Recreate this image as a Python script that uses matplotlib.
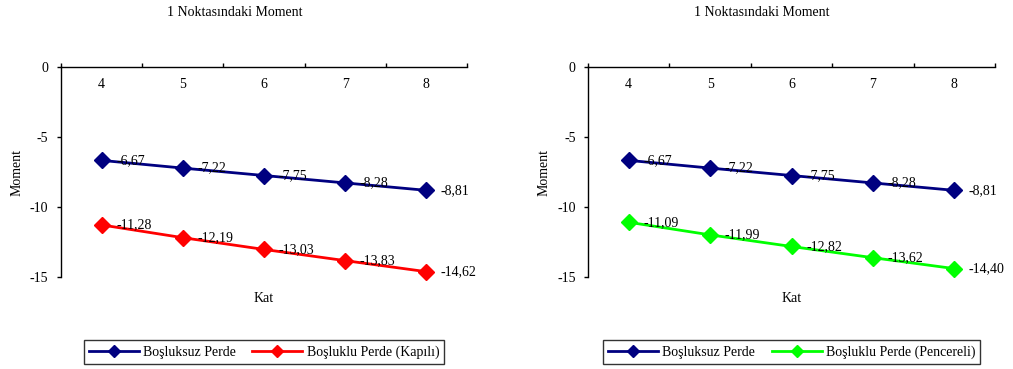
import matplotlib
matplotlib.use("Agg")
import matplotlib.pyplot as plt

plt.rcParams['font.family'] = ['Liberation Serif', 'DejaVu Serif']
plt.rcParams['font.size'] = 10
plt.rcParams['axes.unicode_minus'] = False

# kat numaraları ve moment değerleri
katlar = [4, 5, 6, 7, 8]
bosluksuz = [-6.67, -7.22, -7.75, -8.28, -8.81]
kapili = [-11.28, -12.19, -13.03, -13.83, -14.62]
pencereli = [-11.09, -11.99, -12.82, -13.62, -14.40]

y_ticks = [0, -5, -10, -15]
baslik = '1 Noktasındaki Moment'

fig = plt.figure(figsize=(10.13, 3.69), dpi=100)
ax1 = fig.add_axes([0.0602, 0.2493, 0.4008, 0.5691])
ax2 = fig.add_axes([0.5805, 0.2493, 0.4017, 0.5691])


def fmt(v):
    return f"{v:.2f}".replace('.', ',')


def ciz(ax, seriler, title_x):
    xs = list(range(len(katlar)))
    for vals, color, label in seriler:
        ax.plot(xs, vals, color=color, lw=2, marker='D', ms=8,
                markeredgecolor=color, label=label, clip_on=False)
        for x, v in zip(xs, vals):
            ax.annotate(fmt(v), (x, v), xytext=(10.5, 0), textcoords='offset points',
                        ha='left', va='center', fontsize=10)

    ax.set_xlim(-0.5, len(katlar) - 0.5)
    ax.set_ylim(-15, 0)
    for s in ['right', 'bottom']:
        ax.spines[s].set_visible(False)
    ax.spines['top'].set_linewidth(1)
    ax.spines['left'].set_linewidth(1)

    ax.xaxis.set_ticks_position('top')
    ax.set_xticks(xs)
    ax.set_xticklabels([str(k) for k in katlar])
    ax.set_xticks([x - 0.5 for x in range(len(katlar) + 1)], minor=True)
    ax.tick_params(axis='x', which='major', length=0, pad=-17)
    ax.tick_params(axis='x', which='minor', length=3, direction='out', width=1)

    ax.set_yticks(y_ticks)
    ax.set_yticklabels([str(t) for t in y_ticks])
    ax.tick_params(axis='y', length=3, direction='out', width=1, pad=6)

    ax.xaxis.set_label_position('bottom')
    ax.set_xlabel('Kat', labelpad=11)
    ax.set_ylabel('Moment', labelpad=5)

    fig.text(title_x, 1 - 12 / 369, baslik, ha='center', va='center', fontsize=10)

    leg = ax.legend(loc='center', bbox_to_anchor=(0.5, -0.357), ncol=2,
                    frameon=True, fancybox=False, handlelength=3.6,
                    columnspacing=1.2, handletextpad=0.3, borderpad=0.35,
                    markerscale=0.75, fontsize=10)
    leg.get_frame().set_edgecolor('black')
    leg.get_frame().set_linewidth(1)


ciz(ax1, [(bosluksuz, '#000080', 'Boşluksuz Perde'),
          (kapili, '#FF0000', 'Boşluklu Perde (Kapılı)')], 235 / 1013)
ciz(ax2, [(bosluksuz, '#000080', 'Boşluksuz Perde'),
          (pencereli, '#00FF00', 'Boşluklu Perde (Pencereli)')], 762 / 1013)

plt.savefig('out.png', dpi=100)
